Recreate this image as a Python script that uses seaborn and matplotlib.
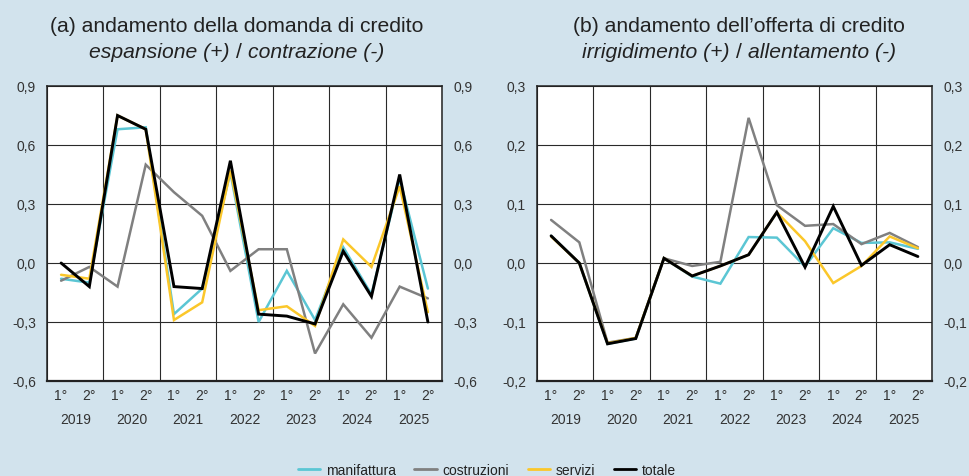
import matplotlib
matplotlib.use("Agg")
import matplotlib.pyplot as plt
import seaborn as sns
import pandas as pd
import numpy as np
from matplotlib.lines import Line2D

# ---------------- data ----------------
years = ["2019", "2020", "2021", "2022", "2023", "2024", "2025"]
halves = ["1°", "2°"]
series = ["manifattura", "costruzioni", "servizi", "totale"]

dom_manifattura = [-0.08, -0.10, 0.68, 0.69, -0.26, -0.13, 0.46, -0.30, -0.04, -0.29, 0.08, -0.16, 0.43, -0.13]
dom_costruzioni = [-0.09, -0.02, -0.12, 0.50, 0.36, 0.24, -0.04, 0.07, 0.07, -0.46, -0.21, -0.38, -0.12, -0.18]
dom_servizi = [-0.06, -0.08, 0.75, 0.68, -0.29, -0.20, 0.47, -0.24, -0.22, -0.32, 0.12, -0.02, 0.39, -0.25]
dom_totale = [0.00, -0.12, 0.75, 0.68, -0.12, -0.13, 0.52, -0.26, -0.27, -0.31, 0.06, -0.17, 0.45, -0.30]

off_manifattura = [0.046, 0.000, -0.137, -0.128, 0.008, -0.023, -0.035, 0.044, 0.043, -0.006, 0.059, 0.034, 0.035, 0.024]
off_costruzioni = [0.073, 0.035, -0.135, -0.127, 0.008, -0.005, 0.002, 0.246, 0.098, 0.063, 0.066, 0.032, 0.051, 0.027]
off_servizi = [0.045, 0.000, -0.136, -0.127, 0.008, -0.022, -0.005, 0.014, 0.086, 0.037, -0.034, -0.005, 0.045, 0.025]
off_totale = [0.046, 0.000, -0.137, -0.128, 0.008, -0.022, -0.005, 0.014, 0.086, -0.007, 0.096, -0.004, 0.031, 0.011]

dom_yticks = [-0.6, -0.3, 0.0, 0.3, 0.6, 0.9]
dom_yticklabels = ["-0,6", "-0,3", "0,0", "0,3", "0,6", "0,9"]
off_yticks = [-0.2, -0.1, 0.0, 0.1, 0.2, 0.3]
off_yticklabels = ["-0,2", "-0,1", "0,0", "0,1", "0,2", "0,3"]

title_a = "(a) andamento della domanda di credito"
sub_a = ("espansione (+)", "contrazione (-)")
title_b = "(b) andamento dell\u2019offerta di credito"
sub_b = ("irrigidimento (+)", "allentamento (-)")

# ---------------- style ----------------
BG = "#d2e3ed"
colors = {"manifattura": "#5bc6d4", "costruzioni": "#808080", "servizi": "#fbc72a", "totale": "#000000"}
widths = {"manifattura": 1.8, "costruzioni": 1.8, "servizi": 1.8, "totale": 2.1}

sns.set_theme(style="white")
plt.rcParams["font.family"] = ["Liberation Sans", "DejaVu Sans"]
plt.rcParams["text.color"] = "#222222"
plt.rcParams["xtick.color"] = "#333333"
plt.rcParams["ytick.color"] = "#333333"

fig = plt.figure(figsize=(9.69, 4.77), dpi=100)
fig.patch.set_facecolor(BG)

W, H = 969.0, 477.0
ax_top, ax_bot = 87.0, 382.0
axL = fig.add_axes([47 / W, 1 - ax_bot / H, 395 / W, (ax_bot - ax_top) / H])
axR = fig.add_axes([537 / W, 1 - ax_bot / H, 395 / W, (ax_bot - ax_top) / H])

n = len(years) * len(halves)
xpos = np.arange(n)
xlabels = [h for _ in years for h in halves]


def make_df(m, c, s, t):
    rows = []
    for name, vals in zip(series, [m, c, s, t]):
        for i, v in enumerate(vals):
            rows.append({"x": i, "valore": v, "serie": name})
    return pd.DataFrame(rows)


dfL = make_df(dom_manifattura, dom_costruzioni, dom_servizi, dom_totale)
dfR = make_df(off_manifattura, off_costruzioni, off_servizi, off_totale)


def draw(ax, df, yticks, yticklabels):
    ax.set_facecolor("white")
    for k, name in enumerate(series):
        sub = df[df["serie"] == name]
        sns.lineplot(data=sub, x="x", y="valore", ax=ax, color=colors[name],
                     linewidth=widths[name], legend=False, zorder=3 + k,
                     solid_joinstyle="miter")
    ax.set_xlim(-0.5, n - 0.5)
    ax.set_ylim(yticks[0], yticks[-1])
    ax.set_xlabel("")
    ax.set_ylabel("")
    # y axis
    ax.set_yticks(yticks)
    ax.set_yticklabels(yticklabels)
    ax.yaxis.set_ticks_position("both")
    ax.tick_params(axis="y", which="both", labelleft=True, labelright=True,
                   length=0, pad=8, labelsize=10)
    # x axis: halves
    ax.set_xticks(xpos)
    ax.set_xticklabels(xlabels)
    ax.tick_params(axis="x", which="major", length=0, pad=5, labelsize=10)
    # separators (minor ticks at year boundaries)
    ax.set_xticks(np.arange(-0.5, n, 2), minor=True)
    ax.tick_params(axis="x", which="minor", length=31, width=1.0,
                   color="#4a4a4a", direction="out")
    # grid
    ax.grid(False)
    ax.grid(True, which="minor", axis="x", color="#2a2a2a", linewidth=0.8)
    ax.grid(True, which="major", axis="y", color="#2a2a2a", linewidth=0.8)
    ax.set_axisbelow(True)
    for sp in ["left", "right", "top"]:
        ax.spines[sp].set_visible(True)
        ax.spines[sp].set_color("#222222")
        ax.spines[sp].set_linewidth(1.1)
    ax.spines["bottom"].set_visible(True)
    ax.spines["bottom"].set_color("#222222")
    ax.spines["bottom"].set_linewidth(1.6)
    # years as secondary axis
    sec = ax.secondary_xaxis("bottom")
    sec.set_xticks(np.arange(0.5, n, 2))
    sec.set_xticklabels(years)
    sec.tick_params(axis="x", length=0, pad=22, labelsize=10)
    sec.spines["bottom"].set_visible(False)


draw(axL, dfL, dom_yticks, dom_yticklabels)
draw(axR, dfR, off_yticks, off_yticklabels)

# titles
TS = 15.2
renderer = fig.canvas.get_renderer()


def title_block(xc_px, title, sub):
    fig.text(xc_px / W, 1 - 31.5 / H, title, ha="center", va="baseline",
             fontsize=TS, color="#222222")
    y = 1 - 58 / H
    t1 = fig.text(0, y, sub[0], style="italic", fontsize=TS, va="baseline", color="#222222")
    t2 = fig.text(0, y, "/", fontsize=TS, va="baseline", color="#222222")
    t3 = fig.text(0, y, sub[1], style="italic", fontsize=TS, va="baseline", color="#222222")
    w = [t.get_window_extent(renderer).width for t in (t1, t2, t3)]
    gap = TS * 100 / 72 * 0.3
    total = sum(w) + 2 * gap
    x0 = xc_px - total / 2
    t1.set_x(x0 / W)
    t2.set_x((x0 + w[0] + gap) / W)
    t3.set_x((x0 + w[0] + gap + w[1] + gap) / W)


title_block(237, title_a, sub_a)
title_block(739, title_b, sub_b)

# legend
handles = [Line2D([0], [0], color=colors[s], linewidth=2.0) for s in series]
fig.legend(handles, series, loc="center", bbox_to_anchor=(487 / W, 1 - 471 / H),
           ncol=4, frameon=False, fontsize=10, handlelength=1.6,
           handletextpad=0.45, columnspacing=1.3)

fig.savefig("out.png", dpi=100, facecolor=BG)
